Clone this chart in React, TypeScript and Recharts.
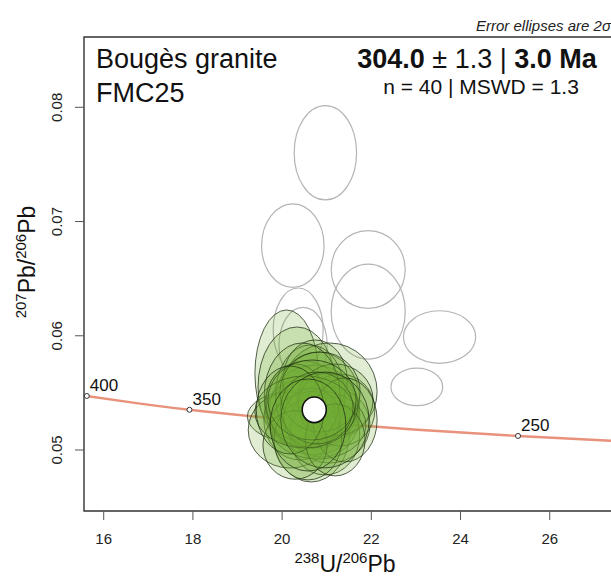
import { ScatterChart, Scatter, XAxis, YAxis, ReferenceArea } from 'recharts';

// concordia curve (Tera-Wasserburg), ages in Ma
const concordiaAges = [400, 375, 350, 325, 300, 275, 250, 230];
const concordiaX = [15.621, 16.695, 17.923, 19.339, 20.992, 22.945, 25.289, 27.531];
const concordiaY = [0.05473, 0.05412, 0.05352, 0.05294, 0.05236, 0.05179, 0.05123, 0.05078];
const labelledAges = [400, 350, 300, 250];

// analyses used in the age (2 sigma semi-axes)
const keptX = [20.10, 20.33, 21.06, 20.37, 20.65, 20.72, 20.51, 20.89, 20.80, 20.40, 21.07, 20.63, 20.18, 20.96, 21.30, 20.74, 21.19, 20.31, 20.80, 20.58, 21.03, 20.67, 20.45, 20.85, 21.41, 20.29, 21.19, 20.51, 20.78, 20.67, 20.18, 20.96, 20.58];
const keptY = [0.05670, 0.05552, 0.05512, 0.05293, 0.05166, 0.05350, 0.05394, 0.05306, 0.05438, 0.05263, 0.05219, 0.05482, 0.05175, 0.05131, 0.05350, 0.05613, 0.05438, 0.05420, 0.05219, 0.05088, 0.05394, 0.05280, 0.05482, 0.05508, 0.05263, 0.05044, 0.05088, 0.05333, 0.05368, 0.05438, 0.05350, 0.05263, 0.05219];
const keptRx = [0.71, 0.87, 1.07, 1.15, 0.87, 1.01, 0.90, 0.85, 0.94, 0.81, 0.90, 0.78, 0.94, 0.78, 0.78, 0.72, 0.85, 0.67, 1.08, 0.76, 0.67, 0.63, 0.85, 0.90, 0.72, 0.72, 0.67, 1.12, 0.81, 0.99, 0.76, 0.99, 0.85];
const keptRy = [0.00556, 0.00525, 0.00425, 0.00232, 0.00446, 0.00394, 0.00385, 0.00368, 0.00420, 0.00350, 0.00333, 0.00438, 0.00333, 0.00350, 0.00315, 0.00350, 0.00315, 0.00333, 0.00298, 0.00350, 0.00280, 0.00263, 0.00455, 0.00350, 0.00368, 0.00300, 0.00315, 0.00315, 0.00315, 0.00350, 0.00385, 0.00420, 0.00403];

// rejected analyses
const rejectedX = [20.97, 20.24, 21.93, 21.93, 23.53, 23.02, 20.36, 20.47];
const rejectedY = [0.07602, 0.06789, 0.06580, 0.06212, 0.05989, 0.05552, 0.06050, 0.05919];
const rejectedRx = [0.70, 0.70, 0.83, 0.83, 0.81, 0.58, 0.56, 0.54];
const rejectedRy = [0.00413, 0.00365, 0.00340, 0.00416, 0.00230, 0.00164, 0.00368, 0.00330];

// weighted mean
const meanX = [20.72];
const meanY = [0.05352];
const meanRx = [0.27];
const meanRy = [0.00112];

const xTicks = [16, 18, 20, 22, 24, 26];
const yTicks = [0.05, 0.06, 0.07, 0.08];

const X_DOMAIN: [number, number] = [15.558, 27.441];
const Y_DOMAIN: [number, number] = [0.04466, 0.086154];

const CHART_W = 640;
const CHART_H = 578;
const MARGIN = { top: 37, right: 26, bottom: 0, left: 0 };
const Y_AXIS_W = 84;
const X_AXIS_H = 67;
const PLOT_W = CHART_W - MARGIN.left - MARGIN.right - Y_AXIS_W;
const PLOT_H = CHART_H - MARGIN.top - MARGIN.bottom - X_AXIS_H;
const PX_PER_X = PLOT_W / (X_DOMAIN[1] - X_DOMAIN[0]);
const PX_PER_Y = PLOT_H / (Y_DOMAIN[1] - Y_DOMAIN[0]);

const FONT = '"Liberation Sans", Arial, sans-serif';

const toEllipses = (xs: number[], ys: number[], rxs: number[], rys: number[]) =>
  xs.map((x, i) => ({ x, y: ys[i], rx: rxs[i], ry: rys[i] }));

const concordia = concordiaX.map((x, i) => ({ x, y: concordiaY[i], age: concordiaAges[i] }));
const ageMarks = concordia.filter((d) => labelledAges.includes(d.age));
const kept = toEllipses(keptX, keptY, keptRx, keptRy);
const rejected = toEllipses(rejectedX, rejectedY, rejectedRx, rejectedRy);
const mean = toEllipses(meanX, meanY, meanRx, meanRy);

const ellipseShape = (style: Record<string, any>) => (props: any) => {
  const { cx, cy, payload } = props;
  return <ellipse cx={cx} cy={cy} rx={payload.rx * PX_PER_X} ry={payload.ry * PX_PER_Y} {...style} />;
};

const AgeMark = (props: any) => {
  const { cx, cy, payload } = props;
  return (
    <g>
      <circle cx={cx} cy={cy} r={2.5} fill="#fff" stroke="#333" strokeWidth={1} />
      <text x={cx + 3} y={cy - 5} fontSize={17} fontFamily={FONT} fill="#111">
        {payload.age}
      </text>
    </g>
  );
};

const YTick = (props: any) => {
  const { x, y, payload } = props;
  const lx = x - 16;
  return (
    <text
      x={lx}
      y={y}
      transform={`rotate(-90 ${lx} ${y})`}
      textAnchor="middle"
      dominantBaseline="central"
      fontSize={15}
      fontFamily={FONT}
      fill="#222"
    >
      {payload.value.toFixed(2)}
    </text>
  );
};

const YLabel = () => (
  <text x={35} y={262} transform="rotate(-90 35 262)" textAnchor="middle" fontFamily={FONT} fill="#111" fontSize={23}>
    <tspan fontSize={15} dy={-9}>207</tspan>
    <tspan dy={9}>Pb/</tspan>
    <tspan fontSize={15} dy={-9}>206</tspan>
    <tspan dy={9}>Pb</tspan>
  </text>
);

const XLabel = () => (
  <text x={345} y={572} textAnchor="middle" fontFamily={FONT} fill="#111" fontSize={23}>
    <tspan fontSize={15} dy={-9}>238</tspan>
    <tspan dy={9}>U/</tspan>
    <tspan fontSize={15} dy={-9}>206</tspan>
    <tspan dy={9}>Pb</tspan>
  </text>
);

export default function App() {
  return (
    <div style={{ position: 'fixed', left: 0, top: 0, width: 611, height: 578, overflow: 'hidden', background: '#fff' }}>
      <ScatterChart width={CHART_W} height={CHART_H} margin={MARGIN}>
        <XAxis
          type="number"
          dataKey="x"
          domain={X_DOMAIN}
          allowDataOverflow
          ticks={xTicks}
          height={X_AXIS_H}
          axisLine={false}
          tickSize={9}
          tickMargin={13}
          tickLine={{ stroke: '#555' }}
          tick={{ fontSize: 15, fontFamily: FONT, fill: '#222' }}
          label={{ content: <XLabel /> }}
        />
        <YAxis
          type="number"
          dataKey="y"
          domain={Y_DOMAIN}
          allowDataOverflow
          ticks={yTicks}
          width={Y_AXIS_W}
          axisLine={false}
          tickSize={9}
          tickMargin={2}
          tickLine={{ stroke: '#555' }}
          tick={<YTick />}
          label={{ content: <YLabel /> }}
        />
        <ReferenceArea x1={X_DOMAIN[0]} x2={X_DOMAIN[1]} y1={Y_DOMAIN[0]} y2={Y_DOMAIN[1]} fill="none" stroke="#333" strokeWidth={1.4} fillOpacity={0} />
        <Scatter data={rejected} shape={ellipseShape({ fill: 'none', stroke: '#b4b4b4', strokeWidth: 1.2 })} isAnimationActive={false} />
        <Scatter
          data={concordia}
          line={{ stroke: '#E8917B', strokeWidth: 2.4 }}
          lineJointType="monotoneX"
          shape={() => <g />}
          isAnimationActive={false}
        />
        <Scatter data={ageMarks} shape={<AgeMark />} isAnimationActive={false} />
        <Scatter
          data={kept}
          shape={ellipseShape({ fill: '#74AE35', fillOpacity: 0.22, stroke: '#1e2c12', strokeOpacity: 0.75, strokeWidth: 1 })}
          isAnimationActive={false}
        />
        <Scatter data={mean} shape={ellipseShape({ fill: '#fff', stroke: '#111', strokeWidth: 1.6 })} isAnimationActive={false} />
      </ScatterChart>
      <svg width={611} height={578} style={{ position: 'absolute', left: 0, top: 0, pointerEvents: 'none' }}>
        <text x={476} y={31} fontSize={15} fontStyle="italic" fontFamily={FONT} fill="#222">
          Error ellipses are 2σ
        </text>
        <text x={96} y={67.5} fontSize={27} fontFamily={FONT} fill="#111">Bougès granite</text>
        <text x={96} y={101.5} fontSize={27} fontFamily={FONT} fill="#111">FMC25</text>
        <text x={477} y={67.5} fontSize={27} fontFamily={FONT} fill="#111" textAnchor="middle">
          <tspan fontWeight="bold">304.0</tspan>
          <tspan> ± 1.3 | </tspan>
          <tspan fontWeight="bold">3.0 Ma</tspan>
        </text>
        <text x={481} y={94} fontSize={21} fontFamily={FONT} fill="#111" textAnchor="middle">
          n = 40 | MSWD = 1.3
        </text>
      </svg>
    </div>
  );
}
